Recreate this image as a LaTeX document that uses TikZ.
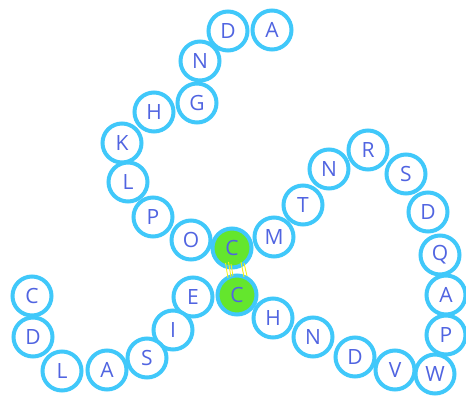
\documentclass[tikz,border=0pt]{standalone}
\usepackage{fontspec}
\setmainfont{Open Sans}
\definecolor{ringblue}{RGB}{64,200,250}
\definecolor{letterblue}{RGB}{80,100,225}
\definecolor{bondgreen}{RGB}{100,230,45}
\definecolor{bondyellow}{RGB}{245,240,20}
\tikzset{
  res/.style={circle, draw=ringblue, fill=white, line width=4pt, minimum size=39pt,
    inner sep=0pt, text=letterblue, font=\fontsize{21}{21}\selectfont},
  cys/.style={res, fill=bondgreen},
  bond/.style={bondyellow, line width=0.9pt}
}
\begin{document}
\begin{tikzpicture}[x=1pt, y=-1pt]
  \useasboundingbox (0,0) rectangle (466,397);
  % upper left arm
  \node[res] (a1) at (272,30) {A};
  \node[res] (d1) at (228,31) {D};
  \node[res] (n1) at (200,61) {N};
  \node[res] (g1) at (197,103) {G};
  \node[res] (h1) at (154,112) {H};
  \node[res] (k1) at (122,143) {K};
  \node[res] (l1) at (128,182) {L};
  \node[res] (p1) at (153,217) {P};
  \node[res] (o1) at (191,240) {O};
  % loop on the right
  \node[res] (m1) at (274,237) {M};
  \node[res] (t1) at (303,205) {T};
  \node[res] (n2) at (329,169) {N};
  \node[res] (r1) at (368,150) {R};
  \node[res] (s1) at (406,174) {S};
  \node[res] (d2) at (428,212) {D};
  \node[res] (q1) at (440,255) {Q};
  \node[res] (a2) at (446,295) {A};
  \node[res] (p2) at (446,335) {P};
  \node[res] (w1) at (435,374) {W};
  \node[res] (v1) at (395,370) {V};
  \node[res] (d3) at (355,357) {D};
  \node[res] (n3) at (313,337) {N};
  \node[res] (h2) at (273,318) {H};
  % lower left arm
  \node[res] (e1) at (193,297) {E};
  \node[res] (i1) at (173,330) {I};
  \node[res] (s2) at (147,358) {S};
  \node[res] (a3) at (107,370) {A};
  \node[res] (l2) at (62,371) {L};
  \node[res] (d4) at (33,337) {D};
  \node[res] (c3) at (32,296) {C};
  % the two cysteines
  \node[cys] (c1) at (232,248) {C};
  \node[cys] (c2) at (237,295) {C};
  % disulfide
  \draw[bond] (225.5,263) -- (228,278);
  \draw[bond] (228.5,262) -- (231,277);
  \draw[bond] (231,264) -- (233,276);
  \draw[bond] (241,262) -- (244,277);
  \draw[bond] (244,263) -- (247,276);
\end{tikzpicture}
\end{document}
